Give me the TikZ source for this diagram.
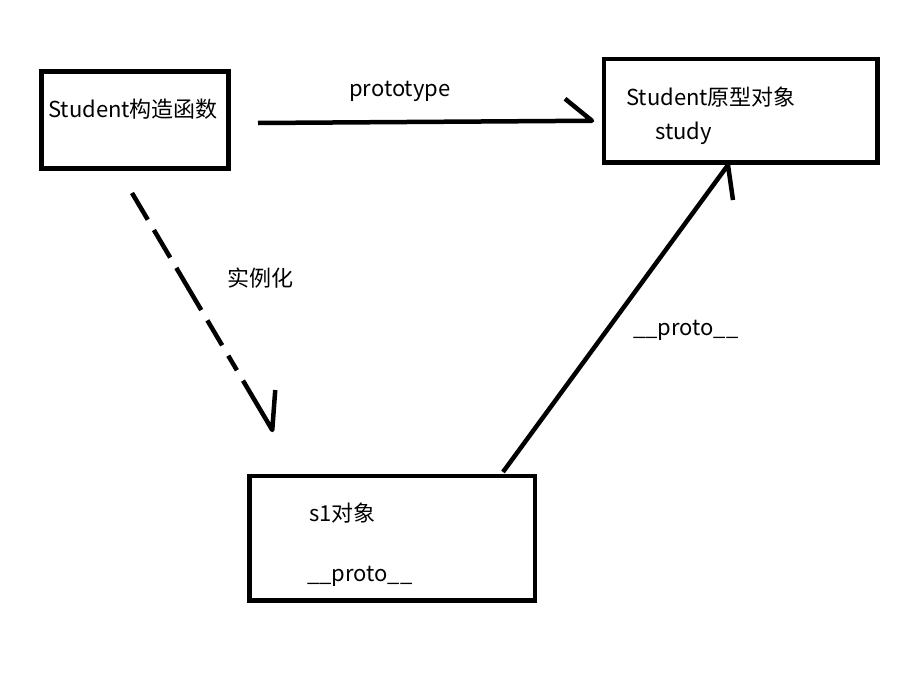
\documentclass[tikz,border=0pt]{standalone}
\usepackage{fontspec}
\setmainfont{Noto Sans CJK SC}
\usetikzlibrary{calc}

\tikzset{
  objbox/.style={draw, line width=4.5pt, inner sep=0pt, outer sep=0pt},
  txt/.style={anchor=base west, inner sep=0pt, font=\fontsize{22}{26}\selectfont},
  link/.style={line width=4.5pt, line join=round}
}

\begin{document}
\begin{tikzpicture}[x=1pt, y=-1pt]
  \useasboundingbox (0,0) rectangle (919,675);
  % Draw the three boxes
  \node[objbox, minimum width=187pt, minimum height=97pt] (ctor) at (135,120) {};
  \node[objbox, minimum width=273.5pt, minimum height=103.5pt] (proto) at (740.75,110.75) {};
  \node[objbox, minimum width=285.5pt, minimum height=124.5pt] (sone) at (392.25,538.25) {};
  % Draw the texts
  \node[txt] (ctorText) at (48,117) {Student构造函数};
  \node[txt] (protoText) at (626,105) {Student原型对象};
  \node[txt] (studyText) at (655,139) {study};
  \node[txt] (soneText) at (309,521.5) {s1对象};
  \node[txt] (soneProto) at (307,581.5) {\_\_proto\_\_};
  \node[txt] (prototypeLbl) at (349,96.5) {prototype};
  \node[txt] (newLbl) at (227,286.5) {实例化};
  \node[txt] (protoLbl) at (633,335) {\_\_proto\_\_};
  % Draw connecting arrows
  \draw[link] ($(ctor.east)+(29.5,3)$) -- ($(proto.west)+(-12,10)$) -- ++(-27,-22);
  \draw[link] ($(sone.north)+(110.75,-4)$) -- ($(proto.south)+(-12.75,2.5)$) -- ++(5,35);
  \draw[link, dash pattern=on 31pt off 12pt on 32pt off 12pt on 49pt off 12pt on 29pt off 12pt on 17pt off 12pt on 100pt off 1pt]
    ($(ctor.south)+(-3,24.5)$) -- ($(sone.north)+(-120,-46)$) -- ++(3,-40);
\end{tikzpicture}
\end{document}
